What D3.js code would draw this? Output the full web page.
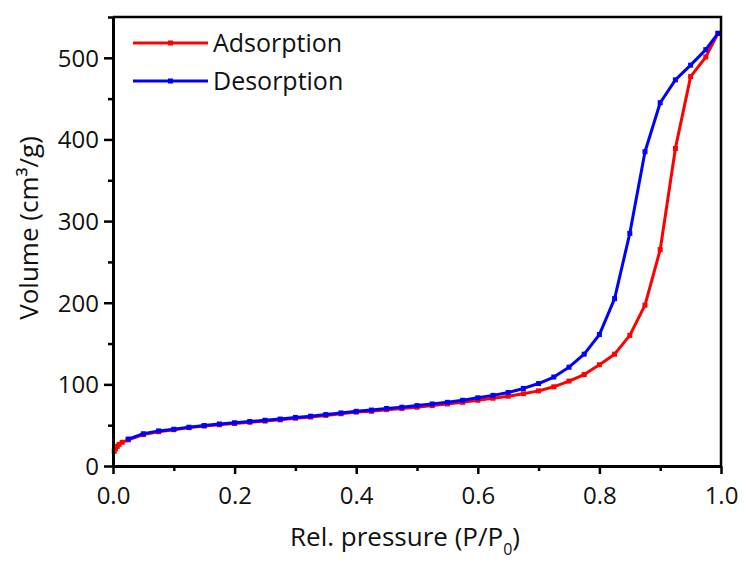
<!DOCTYPE html>
<html>
<head>
<meta charset="utf-8">
<script src="https://cdn.jsdelivr.net/npm/d3@7"></script>
<style>
  body { margin: 0; background: #fff; }
  text { font-family: "Open Sans", "Noto Sans", sans-serif; fill: #111; }
</style>
</head>
<body>
<div class="chart"></div>
<script>
// relative pressure (P/P0) and volume (cm3/g)
const adsP = [0.002, 0.004, 0.007, 0.010, 0.015, 0.025, 0.05, 0.075, 0.1, 0.125, 0.15, 0.175, 0.2, 0.225, 0.25, 0.275, 0.3, 0.325, 0.35, 0.375, 0.4, 0.425, 0.45, 0.475, 0.5, 0.525, 0.55, 0.575, 0.6, 0.625, 0.65, 0.675, 0.7, 0.725, 0.75, 0.775, 0.8, 0.825, 0.85, 0.875, 0.9, 0.925, 0.95, 0.975, 0.995];
const adsV = [18, 21, 24, 26.5, 29, 32, 38.5, 42, 44.5, 47, 49, 50.5, 52, 53.5, 55, 56.5, 58.5, 60, 62, 64, 66, 67, 69, 70.5, 72, 74, 76, 78, 80.5, 83, 85.5, 88.5, 92, 97, 104, 112, 124, 137, 160, 197, 265, 389, 477, 501, 530];

const desP = [0.995, 0.975, 0.95, 0.925, 0.9, 0.875, 0.85, 0.825, 0.8, 0.775, 0.75, 0.725, 0.7, 0.675, 0.65, 0.625, 0.6, 0.575, 0.55, 0.525, 0.5, 0.475, 0.45, 0.425, 0.4, 0.375, 0.35, 0.325, 0.3, 0.275, 0.25, 0.225, 0.2, 0.175, 0.15, 0.125, 0.1, 0.075, 0.05, 0.025];
const desV = [530, 510, 491, 473, 445, 385, 285, 205, 161, 137, 121, 109, 101, 95, 90, 86.5, 83.5, 80.5, 78, 76, 74, 72, 70.5, 68.5, 67, 65, 63, 61, 59.5, 57.5, 56, 54.5, 53, 51.5, 49.5, 47.5, 45, 43, 39.5, 33];

const xTicks = [0, 0.2, 0.4, 0.6, 0.8, 1.0];
const yTicks = [0, 100, 200, 300, 400, 500];

const width = 745;
const height = 561;
const margin = {top: 17, right: 24, bottom: 95, left: 113};

const svg = d3.select('.chart')
    .append('svg')
    .attr('width', width)
    .attr('height', height);

const x = d3.scaleLinear().domain([0, 1]).range([margin.left, width - margin.right]);
const y = d3.scaleLinear().domain([0, 550]).range([height - margin.bottom, margin.top]);

const ads = adsP.map((p, i) => ({p: p, v: adsV[i]}));
const des = desP.map((p, i) => ({p: p, v: desV[i]}));

const line = d3.line().x(d => x(d.p)).y(d => y(d.v));

//draws a series with its square markers
function drawSeries(data, color) {
    svg.append('path')
        .datum(data)
        .attr('d', line)
        .attr('fill', 'none')
        .attr('stroke', color)
        .attr('stroke-width', 3)
        .attr('stroke-linejoin', 'round');
    svg.append('g')
        .selectAll('rect')
        .data(data)
        .enter()
        .append('rect')
        .attr('x', d => x(d.p) - 2.5)
        .attr('y', d => y(d.v) - 2.5)
        .attr('width', 5)
        .attr('height', 5)
        .attr('fill', color);
}

drawSeries(ads, '#ff0000');
drawSeries(des, '#0000ff');

//frame: top and right
svg.append('path')
    .attr('d', `M${x(0)},${y(550)}H${x(1)}V${y(0)}`)
    .attr('fill', 'none')
    .attr('stroke', '#000')
    .attr('stroke-width', 2.5);

//bottom axis
const xAxis = svg.append('g')
    .attr('transform', `translate(0,${y(0)})`)
    .call(d3.axisBottom(x).tickValues(d3.range(0, 1.01, 0.1)).tickSize(0).tickFormat(''));
xAxis.select('.domain').attr('stroke-width', 3);
xAxis.selectAll('.tick line')
    .attr('y2', (d, i) => i % 2 === 0 ? 8 : 5)
    .attr('stroke-width', 2.5);
xAxis.selectAll('.tick')
    .filter((d, i) => i % 2 === 0)
    .append('text')
    .attr('y', 38)
    .attr('text-anchor', 'middle')
    .attr('font-size', 24)
    .text(d => d.toFixed(1));

//left axis
const yAxis = svg.append('g')
    .attr('transform', `translate(${x(0)},0)`)
    .call(d3.axisLeft(y).tickValues(d3.range(0, 551, 50)).tickSize(0).tickFormat(''));
yAxis.select('.domain').attr('stroke-width', 3);
yAxis.selectAll('.tick line')
    .attr('x2', (d, i) => i % 2 === 0 ? -9 : -5)
    .attr('stroke-width', 2.5);
yAxis.selectAll('.tick')
    .filter(d => yTicks.includes(d))
    .append('text')
    .attr('x', -14)
    .attr('dy', '0.35em')
    .attr('text-anchor', 'end')
    .attr('font-size', 24)
    .text(d => d);

//axis titles
const xTitle = svg.append('text')
    .attr('x', 405)
    .attr('y', 546)
    .attr('text-anchor', 'middle')
    .attr('font-size', 26);
xTitle.append('tspan').text('Rel. pressure (P/P');
xTitle.append('tspan').attr('font-size', 16).attr('dy', 9).text('0');
xTitle.append('tspan').attr('dy', -9).text(')');

svg.append('text')
    .attr('transform', `translate(38,228) rotate(-90)`)
    .attr('text-anchor', 'middle')
    .attr('font-size', 26)
    .text('Volume (cm³/g)');

//legend
const legend = [{name: 'Adsorption', color: '#ff0000'}, {name: 'Desorption', color: '#0000ff'}];
const lg = svg.append('g').selectAll('g')
    .data(legend)
    .enter()
    .append('g')
    .attr('transform', (d, i) => `translate(133,${43 + i * 38})`);
lg.append('line')
    .attr('x1', 0).attr('x2', 75)
    .attr('stroke', d => d.color)
    .attr('stroke-width', 3);
lg.append('rect')
    .attr('x', 35).attr('y', -2.5)
    .attr('width', 5).attr('height', 5)
    .attr('fill', d => d.color);
lg.append('text')
    .attr('x', 80)
    .attr('dy', '0.35em')
    .attr('font-size', 25)
    .text(d => d.name);
</script>
</body>
</html>
